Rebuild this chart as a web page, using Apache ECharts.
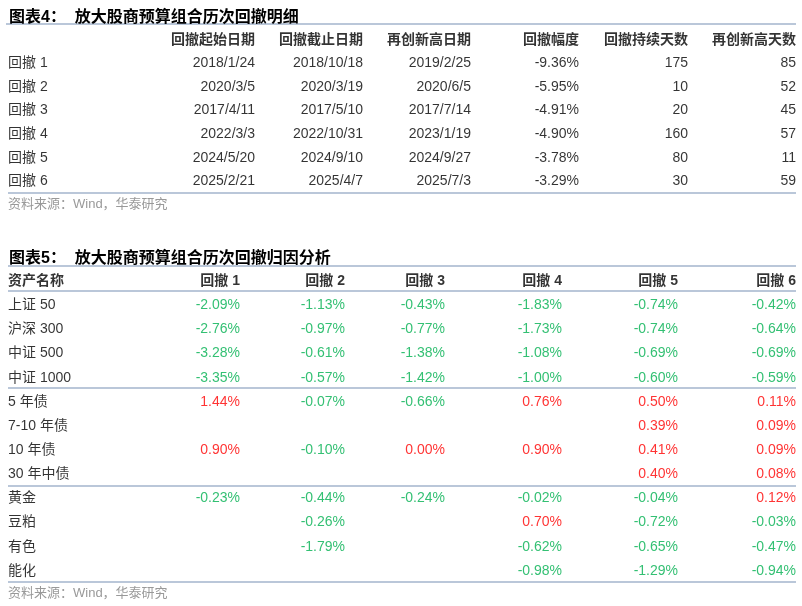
<!DOCTYPE html><html><head><meta charset="utf-8"><script src="https://cdn.jsdelivr.net/npm/echarts@6/dist/echarts.min.js"></script>
<style>html,body{margin:0;padding:0;background:#fff}#c{width:802px;height:606px}</style></head><body><div id="c"></div><script>
const t1Header=['回撤起始日期','回撤截止日期','再创新高日期','回撤幅度','回撤持续天数','再创新高天数'];
const t1Rows=['回撤 1','回撤 2','回撤 3','回撤 4','回撤 5','回撤 6'];
const t1Start=['2018/1/24','2020/3/5','2017/4/11','2022/3/3','2024/5/20','2025/2/21'];
const t1End=['2018/10/18','2020/3/19','2017/5/10','2022/10/31','2024/9/10','2025/4/7'];
const t1High=['2019/2/25','2020/6/5','2017/7/14','2023/1/19','2024/9/27','2025/7/3'];
const t1Depth=['-9.36%','-5.95%','-4.91%','-4.90%','-3.78%','-3.29%'];
const t1Days=['175','10','20','160','80','30'];
const t1Recover=['85','52','45','57','11','59'];
const t2Header=['资产名称','回撤 1','回撤 2','回撤 3','回撤 4','回撤 5','回撤 6'];
const t2Assets=['上证 50','沪深 300','中证 500','中证 1000','5 年债','7-10 年债','10 年债','30 年中债','黄金','豆粕','有色','能化'];
const dd1=['-2.09%','-2.76%','-3.28%','-3.35%','1.44%','','0.90%','','-0.23%','','',''];
const dd2=['-1.13%','-0.97%','-0.61%','-0.57%','-0.07%','','-0.10%','','-0.44%','-0.26%','-1.79%',''];
const dd3=['-0.43%','-0.77%','-1.38%','-1.42%','-0.66%','','0.00%','','-0.24%','','',''];
const dd4=['-1.83%','-1.73%','-1.08%','-1.00%','0.76%','','0.90%','','-0.02%','0.70%','-0.62%','-0.98%'];
const dd5=['-0.74%','-0.74%','-0.69%','-0.60%','0.50%','0.39%','0.41%','0.40%','-0.04%','-0.72%','-0.65%','-1.29%'];
const dd6=['-0.42%','-0.64%','-0.69%','-0.59%','0.11%','0.09%','0.09%','0.08%','0.12%','-0.03%','-0.47%','-0.94%'];
const source='资料来源：Wind，华泰研究';

const W=802, font='"Liberation Sans", Arial, "Noto Sans CJK SC", sans-serif';
const c1X=[255,363,471,579,688,796], c2X=[240,345,445,562,678,796];
const GREEN='#00B050', RED='#FF0000', LINE='#A3B5CC';
const rows1=['h'].concat(t1Rows.map((_,i)=>'r'+i));
const rows2=['h'].concat(t2Assets.map((_,i)=>'r'+i));
const pts=[], pts2=[];
function cell(arr,x,y,text,color,weight,pos){arr.push({value:[x,y],label:{formatter:text,color:color,fontWeight:weight,position:pos}});}
t1Header.forEach((h,j)=>cell(pts,c1X[j],'h',h,'#000','bold','left'));
const t1Cols=[t1Start,t1End,t1High,t1Depth,t1Days,t1Recover];
t1Rows.forEach((r,i)=>{cell(pts,8,'r'+i,r,'#000','normal','right');t1Cols.forEach((col,j)=>cell(pts,c1X[j],'r'+i,col[i],'#000','normal','left'));});
cell(pts2,8,'h',t2Header[0],'#000','bold','right');
t2Header.slice(1).forEach((h,j)=>cell(pts2,c2X[j],'h',h,'#000','bold','left'));
const t2Cols=[dd1,dd2,dd3,dd4,dd5,dd6];
t2Assets.forEach((a,i)=>{cell(pts2,8,'r'+i,a,'#000','normal','right');t2Cols.forEach((col,j)=>{const v=col[i];if(v!=='')cell(pts2,c2X[j],'r'+i,v,v.startsWith('-')?GREEN:RED,'normal','left');});});
const ax=(gi)=>({gridIndex:gi,type:'value',min:0,max:W,show:false});
const ay=(gi,d)=>({gridIndex:gi,type:'category',data:d,inverse:true,show:false});
const lbl={show:true,fontSize:14,fontFamily:font,distance:0};
const line=(y,x1,x2)=>({type:'line',shape:{x1:x1||8,y1:y,x2:x2||796,y2:y},style:{stroke:LINE,lineWidth:1.5}});
const chart=echarts.init(document.getElementById('c'));
chart.setOption({
 animation:false,
 title:[{text:'图表4：  放大股商预算组合历次回撤明细',left:4,top:5,textStyle:{fontSize:16,fontWeight:'bold',color:'#000',fontFamily:font}},
        {text:'图表5：  放大股商预算组合历次回撤归因分析',left:4,top:246,textStyle:{fontSize:16,fontWeight:'bold',color:'#000',fontFamily:font}}],
 grid:[{left:0,right:0,top:28,height:165},{left:0,right:0,top:269,height:314}],
 xAxis:[ax(0),ax(1)], yAxis:[ay(0,rows1),ay(1,rows2)],
 series:[{type:'scatter',xAxisIndex:0,yAxisIndex:0,symbolSize:0,data:pts,label:lbl},
         {type:'scatter',xAxisIndex:1,yAxisIndex:1,symbolSize:0,data:pts2,label:lbl}],
 graphic:[line(24,6,796),line(193),line(266),line(291),line(388),line(486),line(582),
  {type:'text',left:8,top:198,style:{text:source,fill:'#999',font:'13px '+font}},
  {type:'text',left:8,top:587,style:{text:source,fill:'#999',font:'13px '+font}}]
});
</script></body></html>
